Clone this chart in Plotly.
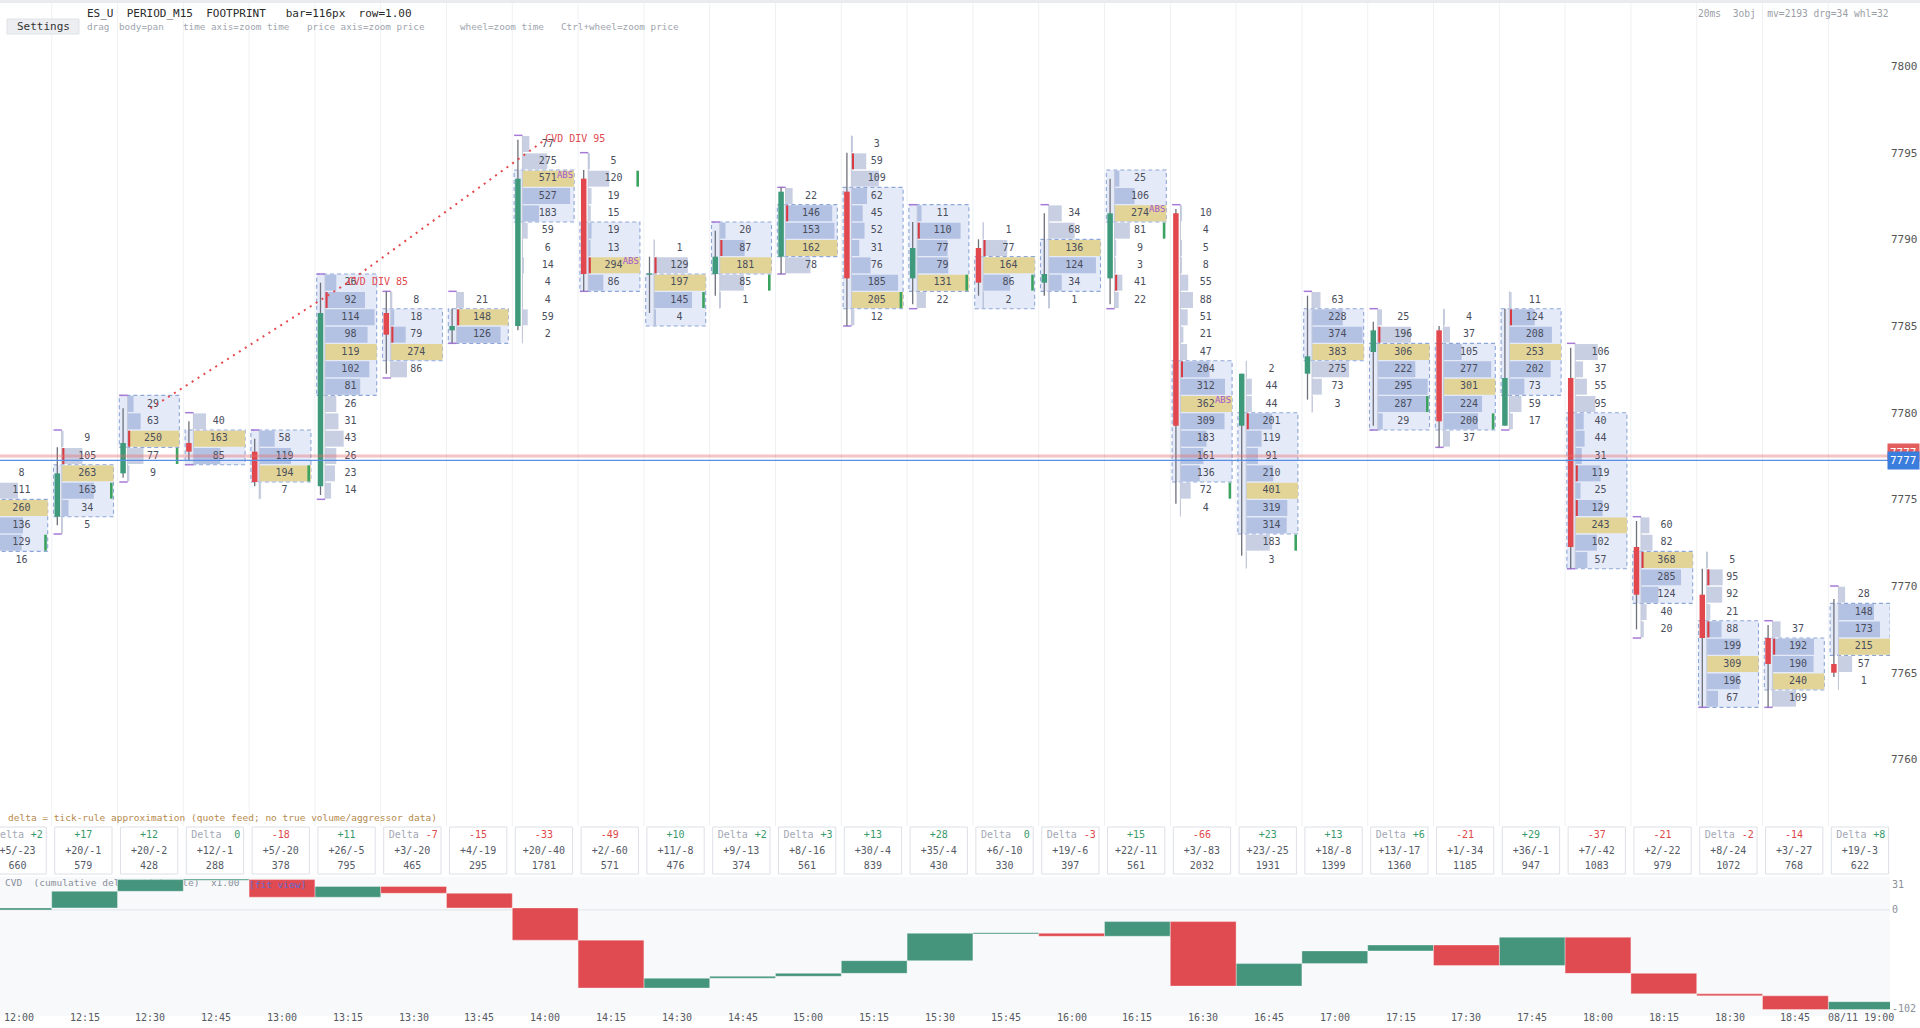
import plotly.graph_objects as go

FONT = "DejaVu Sans Mono"
W, H = 1920, 1028

# ---------------- data ----------------
times = ["12:00", "12:15", "12:30", "12:45", "13:00", "13:15", "13:30", "13:45",
         "14:00", "14:15", "14:30", "14:45", "15:00", "15:15", "15:30", "15:45",
         "16:00", "16:15", "16:30", "16:45", "17:00", "17:15", "17:30", "17:45",
         "18:00", "18:15", "18:30", "18:45", "08/11 19:00"]

# lower price of the top footprint row of each bar (row size = 1.00)
row_top = [7776, 7778, 7780, 7779, 7778, 7787, 7786, 7786, 7795, 7794, 7789, 7790, 7792, 7795,
           7791, 7790, 7791, 7793, 7791, 7782, 7786, 7785, 7785, 7786, 7783, 7773, 7771, 7767, 7769]

# volume per price row, top to bottom
vol_1200 = [8, 111, 260, 136, 129, 16]
vol_1215 = [9, 105, 263, 163, 34, 5]
vol_1230 = [29, 63, 250, 77, 9]
vol_1245 = [40, 163, 85]
vol_1300 = [58, 119, 194, 7]
vol_1315 = [26, 92, 114, 98, 119, 102, 81, 26, 31, 43, 26, 23, 14]
vol_1330 = [8, 18, 79, 274, 86]
vol_1345 = [21, 148, 126]
vol_1400 = [77, 275, 571, 527, 183, 59, 6, 14, 4, 4, 59, 2]
vol_1415 = [5, 120, 19, 15, 19, 13, 294, 86]
vol_1430 = [1, 129, 197, 145, 4]
vol_1445 = [20, 87, 181, 85, 1]
vol_1500 = [22, 146, 153, 162, 78]
vol_1515 = [3, 59, 109, 62, 45, 52, 31, 76, 185, 205, 12]
vol_1530 = [11, 110, 77, 79, 131, 22]
vol_1545 = [1, 77, 164, 86, 2]
vol_1600 = [34, 68, 136, 124, 34, 1]
vol_1615 = [25, 106, 274, 81, 9, 3, 41, 22]
vol_1630 = [10, 4, 5, 8, 55, 88, 51, 21, 47, 204, 312, 362, 309, 183, 161, 136, 72, 4]
vol_1645 = [2, 44, 44, 201, 119, 91, 210, 401, 319, 314, 183, 3]
vol_1700 = [63, 228, 374, 383, 275, 73, 3]
vol_1715 = [25, 196, 306, 222, 295, 287, 29]
vol_1730 = [4, 37, 105, 277, 301, 224, 200, 37]
vol_1745 = [11, 124, 208, 253, 202, 73, 59, 17]
vol_1800 = [106, 37, 55, 95, 40, 44, 31, 119, 25, 129, 243, 102, 57]
vol_1815 = [60, 82, 368, 285, 124, 40, 20]
vol_1830 = [5, 95, 92, 21, 88, 199, 309, 196, 67]
vol_1845 = [37, 192, 190, 240, 109]
vol_1900 = [28, 148, 173, 215, 57, 1]
profiles = [vol_1200, vol_1215, vol_1230, vol_1245, vol_1300, vol_1315, vol_1330, vol_1345,
            vol_1400, vol_1415, vol_1430, vol_1445, vol_1500, vol_1515, vol_1530, vol_1545,
            vol_1600, vol_1615, vol_1630, vol_1645, vol_1700, vol_1715, vol_1730, vol_1745,
            vol_1800, vol_1815, vol_1830, vol_1845, vol_1900]

opens = [7773.0, 7774.0, 7776.5, 7778.25, 7777.75, 7775.75, 7785.75, 7784.75, 7785.0, 7793.5,
         7788.0, 7788.0, 7789.0, 7792.75, 7787.75, 7789.5, 7787.5, 7787.75, 7791.5, 7779.25,
         7782.25, 7783.5, 7784.75, 7779.25, 7782.0, 7772.25, 7769.5, 7767.0, 7765.5]
highs = [7776.75, 7778.0, 7780.25, 7779.5, 7778.5, 7787.5, 7787.0, 7786.0, 7795.75, 7794.0,
         7789.0, 7790.5, 7793.0, 7795.0, 7791.0, 7790.0, 7791.5, 7793.5, 7791.75, 7782.25,
         7786.75, 7785.25, 7785.0, 7786.0, 7783.75, 7773.75, 7771.0, 7767.75, 7769.25]
lows = [7771.25, 7773.5, 7776.25, 7777.25, 7775.75, 7775.25, 7782.25, 7784.0, 7784.75, 7787.0,
        7785.75, 7786.75, 7788.0, 7785.0, 7786.25, 7786.75, 7786.75, 7786.25, 7774.75, 7771.75,
        7780.75, 7779.25, 7778.0, 7779.25, 7771.0, 7767.5, 7763.0, 7763.0, 7764.75]
closes = [7774.0, 7776.5, 7778.25, 7777.75, 7776.0, 7785.75, 7784.5, 7785.0, 7793.5, 7788.0,
          7788.0, 7789.0, 7792.75, 7787.75, 7789.5, 7787.5, 7788.0, 7791.5, 7779.25, 7782.25,
          7783.25, 7784.75, 7779.5, 7782.0, 7772.25, 7769.5, 7767.0, 7765.5, 7765.0]

# value area: first and last row index (top-down) inside the dashed box
va_first = [2, 2, 0, 1, 0, 0, 1, 1, 2, 4, 2, 0, 1, 3, 0, 2, 2, 0, 9, 3, 1, 2, 2, 1, 4, 2, 4, 1, 1]
va_last = [4, 4, 2, 2, 2, 6, 3, 2, 4, 7, 4, 2, 3, 9, 4, 4, 4, 2, 15, 9, 3, 6, 6, 5, 12, 4, 8, 3, 3]

# imbalance markers (row indices)
red_marks = [[], [1], [2], [], [], [1], [2], [1], [], [6], [1], [1], [1], [1], [1], [1], [], [6],
             [9], [3], [], [1], [], [1], [7, 9], [2], [1, 4], [1], []]
green_marks = [[4], [3], [3], [], [2], [], [], [], [], [1], [3], [3], [], [9], [4], [3], [], [3],
               [16], [10], [], [5], [6], [], [], [], [], [], []]
cap_top = [0, 1, 1, 1, 1, 1, 1, 1, 1, 1, 0, 1, 1, 0, 1, 0, 1, 0, 1, 0, 1, 1, 0, 0, 1, 1, 0, 1, 1]
cap_bot = [0, 1, 1, 1, 0, 1, 1, 1, 0, 1, 0, 0, 1, 1, 1, 0, 0, 1, 0, 0, 0, 1, 1, 1, 1, 1, 1, 1, 0]
abs_bars = [8, 9, 17, 18]

div_from = [2, 5]
div_to = [5, 8]
div_text = ["CVD DIV 85", "CVD DIV 95"]

delta = [2, 17, 12, 0, -18, 11, -7, -15, -33, -49, 10, 2, 3, 13, 28, 0, -3, 15, -66, 23, 13, 6,
         -21, 29, -37, -21, -2, -14, 8]
buy_sell = ["+5/-23", "+20/-1", "+20/-2", "+12/-1", "+5/-20", "+26/-5", "+3/-20", "+4/-19",
            "+20/-40", "+2/-60", "+11/-8", "+9/-13", "+8/-16", "+30/-4", "+35/-4", "+6/-10",
            "+19/-6", "+22/-11", "+3/-83", "+23/-25", "+18/-8", "+13/-17", "+1/-34", "+36/-1",
            "+7/-42", "+2/-22", "+8/-24", "+3/-27", "+19/-3"]
bar_volume = [660, 579, 428, 288, 378, 795, 465, 295, 1781, 571, 476, 374, 561, 839, 430, 330,
              397, 561, 2032, 1931, 1399, 1360, 1185, 947, 1083, 979, 1072, 768, 622]
cvd = [2, 19, 31, 31, 13, 24, 17, 2, -31, -80, -70, -68, -65, -52, -24, -24, -27, -12, -78, -55,
       -42, -36, -57, -28, -65, -86, -88, -102, -94]

price_ticks = [7760, 7765, 7770, 7775, 7780, 7785, 7790, 7795, 7800]
ask_price = 7777.50
bid_price = 7777.25
last_label = "7777"

# ---------------- geometry ----------------
PX0, PXB = 18.8, 65.8            # pixel of bar-0 centre, pixels per bar


def xpx(px):
    return (px - PX0) / PXB


def off(px_from_left):           # offset inside a column, from its left edge
    return (px_from_left - PXB / 2) / PXB


X_MIN, X_MAX = xpx(0), xpx(1890)
VA_X0, VA_X1 = off(1.8), off(61.8)
PROF_X0 = off(10.1)
PROF_W = VA_X1 - PROF_X0
CANDLE_X = off(5.6)
MARK_W = 2.6 / PXB
GREEN_X0 = off(58.3)
NUM_X = off(35.5)
ABS_X = off(44.6)
DBOX_X0, DBOX_X1, DBOX_C = off(3.0), off(60.3), off(31.6)
DLBL_X, DVAL_X = off(8.0), off(57.0)

P_REF, P_REF_PX, PX_PT = 7800.0, 66.0, 17.334


def price_at(py):
    return P_REF - (py - P_REF_PX) / PX_PT


MAIN_TOP, MAIN_BOT = 0, 826
D_TOP, D_BOT = 826, 876
C_TOP, C_BOT = 877, 1016
Y_TOP, Y_BOT = price_at(MAIN_TOP), price_at(MAIN_BOT)


def dom(a, b):
    return [1 - b / H, 1 - a / H]


c_hi, c_lo = max(cvd), min(cvd)
k = (1009.5 - 879.6) / (c_hi - c_lo)
Y3_TOP = c_hi + (879.6 - C_TOP) / k
Y3_BOT = c_lo - (C_BOT - 1009.5) / k


def cvd_at(py):
    return c_hi - (py - 879.6) / k


GREEN, RED = "#3f9a7b", "#e1474c"
TXT = "#4a4e5c"

traces = []
shapes = []
annotations = []

# vertical grid lines
for b in range(-1, len(times)):
    shapes.append(dict(type="line", xref="x", yref="y", x0=b + 0.5, x1=b + 0.5, y0=Y_BOT, y1=Y_TOP,
                       line=dict(color="#eef0f3", width=1), layer="below"))

# value-area boxes
for i in range(len(times)):
    shapes.append(dict(type="rect", xref="x", yref="y", x0=i + VA_X0, x1=i + VA_X1,
                       y0=row_top[i] - va_last[i], y1=row_top[i] - va_first[i] + 1,
                       fillcolor="#e5eaf9", line=dict(color="#8fa6d8", width=1.1, dash="4px,3px"),
                       layer="below"))

# profile rows
cats = {"out": ([], [], []), "in": ([], [], []), "poc": ([], [], [])}
num_x, num_y, num_t = [], [], []
abs_x, abs_y = [], []
for i, vols in enumerate(profiles):
    vmax = max(vols)
    poc = vols.index(vmax)
    for j, v in enumerate(vols):
        yc = row_top[i] - j + 0.5
        key = "poc" if j == poc else ("in" if va_first[i] <= j <= va_last[i] else "out")
        cats[key][0].append(yc)
        cats[key][1].append(v / vmax * PROF_W)
        cats[key][2].append(i + PROF_X0)
        num_x.append(i + NUM_X)
        num_y.append(yc)
        num_t.append(str(v))
    if i in abs_bars:
        abs_x.append(i + ABS_X)
        abs_y.append(row_top[i] - poc + 0.5 + 0.18)

cat_colors = {"out": "#c8cfe2", "in": "#b3c1e3", "poc": "#e2d497"}
for key in ["out", "in", "poc"]:
    ys, xs, bs = cats[key]
    traces.append(go.Bar(orientation="h", y=ys, x=xs, base=bs, width=0.92,
                         marker=dict(color=cat_colors[key], line=dict(width=0)),
                         hoverinfo="skip", xaxis="x", yaxis="y"))

# imbalance markers
for marks, x0, col in [(red_marks, PROF_X0, "#d93b42"), (green_marks, GREEN_X0, "#3ba35f")]:
    ys, bs = [], []
    for i, rows in enumerate(marks):
        for j in rows:
            ys.append(row_top[i] - j + 0.5)
            bs.append(i + x0)
    traces.append(go.Bar(orientation="h", y=ys, x=[MARK_W] * len(ys), base=bs, width=0.92,
                         marker=dict(color=col, line=dict(width=0)), hoverinfo="skip"))

# range brackets
bx, by, cx, cy = [], [], [], []
for i, vols in enumerate(profiles):
    hi = row_top[i] + 1
    lo = row_top[i] - len(vols) + 1
    bx += [i + PROF_X0, i + PROF_X0, None]
    by += [lo, hi, None]
    if cap_top[i]:
        cx += [i + VA_X0, i + PROF_X0, None]
        cy += [hi, hi, None]
    if cap_bot[i]:
        cx += [i + VA_X0, i + PROF_X0, None]
        cy += [lo, lo, None]
traces.append(go.Scatter(x=bx, y=by, mode="lines", line=dict(color="#c3c8d8", width=1), hoverinfo="skip"))
traces.append(go.Scatter(x=cx, y=cy, mode="lines", line=dict(color="#a77ad8", width=1.5), hoverinfo="skip"))

# candles
wx, wy = [], []
gx, gy, rx, ry = [], [], [], []
for i in range(len(times)):
    xc = i + CANDLE_X
    wx += [xc, xc, None]
    wy += [lows[i], highs[i], None]
    o, c = opens[i], closes[i]
    a, b = (o, c) if o != c else (o - 0.04, o + 0.04)
    if c >= o:
        gx += [xc, xc, None]
        gy += [a, b, None]
    else:
        rx += [xc, xc, None]
        ry += [a, b, None]
traces.append(go.Scatter(x=wx, y=wy, mode="lines", line=dict(color="#6e7079", width=1.3), hoverinfo="skip"))
traces.append(go.Scatter(x=gx, y=gy, mode="lines", line=dict(color=GREEN, width=5.5), hoverinfo="skip"))
traces.append(go.Scatter(x=rx, y=ry, mode="lines", line=dict(color=RED, width=5.5), hoverinfo="skip"))

# row numbers
traces.append(go.Scatter(x=num_x, y=num_y, text=num_t, mode="text", textposition="middle center",
                         textfont=dict(family=FONT, size=10, color=TXT), hoverinfo="skip"))
traces.append(go.Scatter(x=abs_x, y=abs_y, text=["ABS"] * len(abs_x), mode="text",
                         textposition="middle right",
                         textfont=dict(family=FONT, size=9, color="#a259d0"), hoverinfo="skip"))

# CVD divergence
dx, dy = [], []
for a, b in zip(div_from, div_to):
    dx += [a, b, None]
    dy += [highs[a], highs[b], None]
traces.append(go.Scatter(x=dx, y=dy, mode="lines", line=dict(color="#e5484d", width=2, dash="2px,5px"),
                         hoverinfo="skip"))
traces.append(go.Scatter(x=div_to, y=[highs[b] for b in div_to], text=div_text, mode="text",
                         textposition="middle right",
                         textfont=dict(family=FONT, size=10, color="#e04a4f"), hoverinfo="skip"))

# bid / ask lines
traces.append(go.Scatter(x=[X_MIN, X_MAX], y=[ask_price, ask_price], mode="lines",
                         line=dict(color="rgba(231,108,108,0.40)", width=3), hoverinfo="skip"))
traces.append(go.Scatter(x=[X_MIN, X_MAX], y=[bid_price, bid_price], mode="lines",
                         line=dict(color="#5a8fe3", width=1.2), hoverinfo="skip"))

# ---------------- delta strip ----------------
for i in range(len(times)):
    shapes.append(dict(type="rect", xref="x", yref="y2", x0=i + DBOX_X0, x1=i + DBOX_X1, y0=2, y1=49,
                       fillcolor="white", line=dict(color="#dde0e6", width=1), layer="below"))
lab_x, pos_x, pos_t, neg_x, neg_t = [], [], [], [], []
pos_pos, neg_pos = [], []
for i, d in enumerate(delta):
    s = "0" if d == 0 else f"{d:+d}"
    if abs(d) < 10:
        lab_x.append(i + DLBL_X)
        xv, pos = i + DVAL_X, "middle left"
    else:
        xv, pos = i + DBOX_C, "middle center"
    if d >= 0:
        pos_x.append(xv); pos_t.append(s); pos_pos.append(pos)
    else:
        neg_x.append(xv); neg_t.append(s); neg_pos.append(pos)
traces.append(go.Scatter(x=lab_x, y=[41] * len(lab_x), text=["Delta"] * len(lab_x), mode="text",
                         textposition="middle right", yaxis="y2",
                         textfont=dict(family=FONT, size=10, color="#a3a8b5"), hoverinfo="skip"))
traces.append(go.Scatter(x=pos_x, y=[41] * len(pos_x), text=pos_t, mode="text", textposition=pos_pos,
                         yaxis="y2", textfont=dict(family=FONT, size=10, color="#3a9a6c"), hoverinfo="skip"))
traces.append(go.Scatter(x=neg_x, y=[41] * len(neg_x), text=neg_t, mode="text", textposition=neg_pos,
                         yaxis="y2", textfont=dict(family=FONT, size=10, color="#e0484c"), hoverinfo="skip"))
cx_all = [i + DBOX_C for i in range(len(times))]
traces.append(go.Scatter(x=cx_all, y=[25] * len(times), text=buy_sell, mode="text",
                         textposition="middle center", yaxis="y2",
                         textfont=dict(family=FONT, size=10, color="#555a66"), hoverinfo="skip"))
traces.append(go.Scatter(x=cx_all, y=[9.3] * len(times), text=[str(v) for v in bar_volume], mode="text",
                         textposition="middle center", yaxis="y2",
                         textfont=dict(family=FONT, size=10, color="#555a66"), hoverinfo="skip"))

# ---------------- CVD panel ----------------
shapes.append(dict(type="rect", xref="paper", yref="paper", x0=0, x1=1890 / W,
                   y0=1 - C_BOT / H, y1=1 - C_TOP / H, fillcolor="#f8f9fb", line=dict(width=0),
                   layer="below"))
shapes.append(dict(type="line", xref="paper", yref="y3", x0=0, x1=1890 / W, y0=0, y1=0,
                   line=dict(color="#e1e4ea", width=1), layer="below"))
traces.append(go.Scatter(x=[xpx(5)], y=[cvd_at(884)], text=["CVD  (cumulative delta, tick-rule)  x1.00"],
                         mode="text", textposition="middle right", yaxis="y3",
                         textfont=dict(family=FONT, size=9.5, color="#8a909c"), hoverinfo="skip"))
pg = {"g": ([], []), "r": ([], [])}
prev = 0
for i, c in enumerate(cvd):
    a, b = prev, c
    if a == b:
        a, b = a - 0.6, b + 0.6
    key = "g" if delta[i] >= 0 else "r"
    pg[key][0].extend([i - 0.5, i + 0.5, i + 0.5, i - 0.5, i - 0.5, None])
    pg[key][1].extend([a, a, b, b, a, None])
    prev = c
traces.append(go.Scatter(x=pg["g"][0], y=pg["g"][1], mode="lines", fill="toself", fillcolor="#45957d",
                         line=dict(color="rgba(255,255,255,0.35)", width=1), yaxis="y3", hoverinfo="skip"))
traces.append(go.Scatter(x=pg["r"][0], y=pg["r"][1], mode="lines", fill="toself", fillcolor="#e04b51",
                         line=dict(color="rgba(255,255,255,0.35)", width=1), yaxis="y3", hoverinfo="skip"))

annotations.append(dict(text="[fit view]", x=xpx(247), y=cvd_at(884), xref="x", yref="y3",
                        xanchor="left", yanchor="middle", showarrow=False,
                        font=dict(family=FONT, size=9.5, color="#5d6bd2")))
for val, ys in [(c_hi, -5), (0, 0), (c_lo, 1)]:
    annotations.append(dict(text=str(val), x=1890 / W, y=val, xref="paper", yref="y3", xanchor="left",
                            yanchor="middle", yshift=ys, showarrow=False,
                            font=dict(family=FONT, size=10, color="#8a8f99")))

# time labels
for i, t in enumerate(times):
    annotations.append(dict(text=t, x=i, y=1 - 1017 / H, xref="x", yref="paper", xanchor="center",
                            yanchor="middle", showarrow=False,
                            font=dict(family=FONT, size=10, color="#555a63")))

# bid/ask price tags
annotations.append(dict(text=last_label, x=1887 / W, y=ask_price, xref="paper", yref="y", xanchor="left",
                        yanchor="middle", yshift=4, showarrow=False, bgcolor="#e35d5d", borderpad=2,
                        font=dict(family=FONT, size=11, color="white")))
annotations.append(dict(text=last_label, x=1887 / W, y=bid_price, xref="paper", yref="y", xanchor="left",
                        yanchor="middle", showarrow=False, bgcolor="#3b7ddd", borderpad=2,
                        font=dict(family=FONT, size=11, color="white")))


# ---------------- header ----------------
def ann(text, px, py, size, color, xanchor="left"):
    return dict(text=text, x=px / W, y=1 - py / H, xref="paper", yref="paper", xanchor=xanchor,
                yanchor="middle", showarrow=False, font=dict(family=FONT, size=size, color=color))


shapes.append(dict(type="rect", xref="paper", yref="paper", x0=0, x1=1, y0=1 - 3 / H, y1=1,
                   fillcolor="#e9ebee", line=dict(width=0)))
shapes.append(dict(type="rect", xref="paper", yref="paper", x0=7 / W, x1=79 / W, y0=1 - 34 / H,
                   y1=1 - 19 / H, fillcolor="#eceef1", line=dict(color="#dfe2e6", width=1)))
annotations.append(ann("Settings", 43, 26.5, 11, "#333333", "center"))
annotations.append(ann("ES_U  PERIOD_M15  FOOTPRINT   bar=116px  row=1.00", 84.5, 13.5, 11, "#2a2a2a"))
for txt, px in [("drag", 85.7), ("body=pan", 118.3), ("time axis=zoom time", 182),
                ("price axis=zoom price", 305.8), ("wheel=zoom time", 458.5),
                ("Ctrl+wheel=zoom price", 560)]:
    annotations.append(ann(txt, px - 1, 26.5, 9.3, "#a0a5ae"))
annotations.append(ann("20ms  3obj  mv=2193 drg=34 whl=32", 1696, 13.5, 9.6, "#9a9ea6"))
annotations.append(ann("delta = tick-rule approximation (quote feed; no true volume/aggressor data)",
                       5.5, 817, 9.5, "#b48a4e"))

# ---------------- layout ----------------
fig = go.Figure(traces)
fig.update_layout(
    width=W, height=H, margin=dict(l=0, r=0, t=0, b=0), autosize=False,
    paper_bgcolor="white", plot_bgcolor="white", showlegend=False, hovermode=False,
    barmode="overlay", shapes=shapes, annotations=annotations,
    font=dict(family=FONT),
    xaxis=dict(domain=[0, 1890 / W], range=[X_MIN, X_MAX], showgrid=False, zeroline=False,
               showticklabels=False, showline=False, ticks="", anchor="y3", fixedrange=True),
    yaxis=dict(domain=dom(MAIN_TOP, MAIN_BOT), range=[Y_BOT, Y_TOP], side="right", anchor="x",
               tickvals=price_ticks, ticktext=[str(p) for p in price_ticks], showgrid=False,
               zeroline=False, showline=False, ticks="",
               tickfont=dict(family=FONT, size=11, color="#555555")),
    yaxis2=dict(domain=dom(D_TOP, D_BOT), range=[0, 50], anchor="x", showgrid=False, zeroline=False,
                showticklabels=False, showline=False),
    yaxis3=dict(domain=dom(C_TOP, C_BOT), range=[Y3_BOT, Y3_TOP], anchor="x", showgrid=False,
                zeroline=False, showticklabels=False, showline=False),
)

fig.write_html("out.html", config={"displayModeBar": False},
               post_script="document.body.style.margin='0';document.body.style.overflow='hidden';")
